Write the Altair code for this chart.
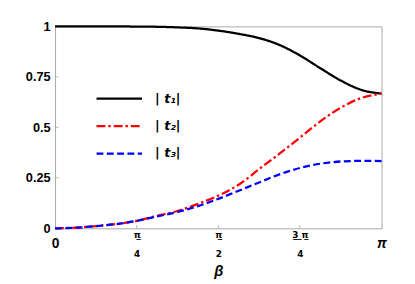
import math
import altair as alt
import pandas as pd

# beta sampled at k*pi/16, k = 0..16
k_steps = list(range(17))
t1_vals = [1.000, 1.000, 1.000, 1.000, 0.999, 0.998, 0.995, 0.990, 0.979,
           0.963, 0.942, 0.908, 0.856, 0.793, 0.732, 0.686, 0.667]
t2_vals = [0.000, 0.003, 0.011, 0.021, 0.037, 0.062, 0.086, 0.121, 0.162,
           0.216, 0.293, 0.370, 0.449, 0.530, 0.597, 0.645, 0.667]
t3_vals = [0.000, 0.003, 0.011, 0.021, 0.037, 0.059, 0.081, 0.110, 0.146,
           0.186, 0.227, 0.267, 0.299, 0.320, 0.331, 0.334, 0.333]
series_names = ["| t\u2081|", "| t\u2082|", "| t\u2083|"]
series_colors = ["#000000", "#ff0000", "#0000ff"]
series_dash = [[1, 0], [9, 3, 2.5, 3], [7, 3.5]]

x_tick_vals = [0, math.pi / 4, math.pi / 2, 3 * math.pi / 4, math.pi]
y_tick_vals = [0, 0.25, 0.5, 0.75, 1]

rows = []
for name, vals in zip(series_names, [t1_vals, t2_vals, t3_vals]):
    for k, v in zip(k_steps, vals):
        rows.append({"beta": k * math.pi / 16, "value": v, "series": name})
df = pd.DataFrame(rows)

xscale = alt.Scale(domain=[0, math.pi], nice=False, zero=False)
yscale = alt.Scale(domain=[0, 1], nice=False, zero=False)

U = "\u0332"  # combining low line -> fraction bar
x_label_expr = (
    "datum.value < 0.01 ? '0' : datum.value > 3.1 ? '\u03c0' : "
    f"abs(datum.value - PI/4) < 0.01 ? ['\u03c0{U}', '4'] : "
    f"abs(datum.value - PI/2) < 0.01 ? ['\u03c0{U}', '2'] : "
    f"['3{U} {U}\u03c0{U}', '4']"
)
end_test = "datum.value < 0.01 || datum.value > 3.1"

x_axis = alt.Axis(
    values=x_tick_vals, labelExpr=x_label_expr, title="\u03b2",
    ticks=False, tickSize=0, domain=False, grid=False,
    labelPadding={"condition": {"test": end_test, "value": 9}, "value": 2},
    labelOverlap=False, labelFlush=False, labelLineHeight=20,
    labelFont={"condition": {"test": end_test, "value": "Liberation Sans"}, "value": "DejaVu Sans"},
    labelFontWeight="bold",
    labelFontSize={"condition": {"test": end_test, "value": 14}, "value": 9},
    labelFontStyle={"condition": {"test": "datum.value > 3.1", "value": "italic"}, "value": "normal"},
    labelColor="black",
    titleFont="Liberation Sans", titleFontWeight="bold", titleFontStyle="italic",
    titleFontSize=15, titlePadding=5, titleColor="black",
)
y_axis = alt.Axis(
    values=y_tick_vals, labelExpr="toString(datum.value)", title=None,
    ticks=False, tickSize=0, domain=False, grid=False, labelPadding=5,
    labelFont="Liberation Sans", labelFontWeight="bold", labelFontSize=13,
    labelColor="black", labelOverlap=False, labelFlush=False,
)

legend = alt.Legend(
    title=None, orient="none", legendX=41, legendY=60,
    symbolType="stroke", symbolSize=2150, symbolStrokeWidth=2.3,
    labelFont="DejaVu Sans", labelFontWeight="bold", labelFontStyle="italic",
    labelFontSize=13, labelColor="black", rowPadding=0, clipHeight=27.5,
    labelOffset=12, padding=0,
)

lines = alt.Chart(df).mark_line(strokeWidth=2.3, interpolate="monotone").encode(
    x=alt.X("beta:Q", scale=xscale, axis=x_axis),
    y=alt.Y("value:Q", scale=yscale, axis=y_axis),
    color=alt.Color("series:N", scale=alt.Scale(domain=series_names, range=series_colors), legend=legend),
    strokeDash=alt.StrokeDash("series:N", scale=alt.Scale(domain=series_names, range=series_dash), legend=legend),
)

xt = pd.DataFrame({"pos": x_tick_vals[1:-1]})
yt = pd.DataFrame({"pos": y_tick_vals[1:-1]})
xticks = alt.Chart(xt).mark_tick(orient="vertical", size=7, thickness=1, color="#999999", clip=True).encode(
    x=alt.X("pos:Q", scale=xscale), y=alt.datum(0, scale=yscale)
)
yticks = alt.Chart(yt).mark_tick(orient="horizontal", size=7, thickness=1, color="#999999", clip=True).encode(
    y=alt.Y("pos:Q", scale=yscale), x=alt.datum(0, scale=xscale)
)

chart = alt.layer(xticks, yticks, lines).properties(
    width=333, height=206,
    background="white",
    autosize=alt.AutoSizeParams(type="none"),
    padding={"left": 48, "top": 16, "right": 26, "bottom": 52},
).configure_view(stroke="#a8a8a8", strokeWidth=1)

chart.save("out.html", embed_options={"renderer": "svg", "actions": False})
